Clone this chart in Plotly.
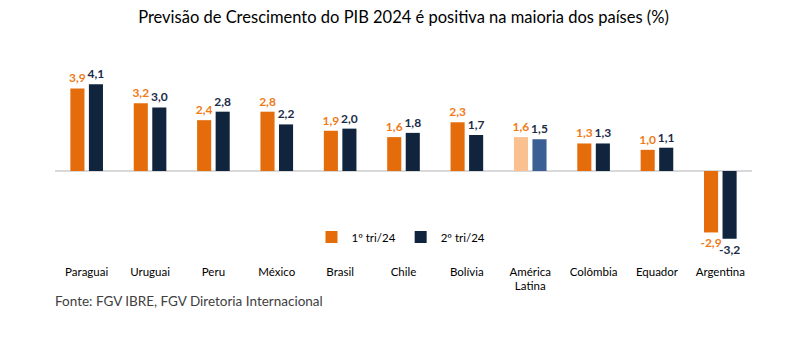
import plotly.graph_objects as go

categories = ["Paraguai", "Uruguai", "Peru", "México", "Brasil", "Chile", "Bolívia",
              "América<br>Latina", "Colômbia", "Equador", "Argentina"]
tri1 = [3.9, 3.2, 2.4, 2.8, 1.9, 1.6, 2.3, 1.6, 1.3, 1.0, -2.9]
tri2 = [4.1, 3.0, 2.8, 2.2, 2.0, 1.8, 1.7, 1.5, 1.3, 1.1, -3.2]

ORANGE = "#E46C0A"
NAVY = "#10243E"
LIGHT_ORANGE = "#FAC090"
STEEL = "#3A5F94"
LBL_ORANGE = "#F07A17"
LBL_NAVY = "#1B2B47"

c1 = [LIGHT_ORANGE if "América" in c else ORANGE for c in categories]
c2 = [STEEL if "América" in c else NAVY for c in categories]

fig = go.Figure()
fig.add_trace(go.Bar(
    x=categories, y=tri1, name="1º tri/24",
    marker=dict(color=c1, line=dict(width=0)),
    texttemplate="%{y:.1f}", textposition="outside", constraintext="none",
    textfont=dict(family="Lato", size=12, color=LBL_ORANGE, weight="bold"),
    cliponaxis=False,
))
fig.add_trace(go.Bar(
    x=categories, y=tri2, name="2º tri/24",
    marker=dict(color=c2, line=dict(width=0)),
    texttemplate="%{y:.1f}", textposition="outside", constraintext="none",
    textfont=dict(family="Lato", size=12, color=LBL_NAVY, weight="bold"),
    cliponaxis=False,
))

fig.update_layout(
    width=786, height=348,
    margin=dict(l=55, r=34, t=60, b=88),
    paper_bgcolor="white", plot_bgcolor="white",
    separators=",.",
    barmode="group", bargap=0.415, bargroupgap=0.24,
    font=dict(family="Lato", size=11, color="#000000"),
    title=dict(text="Previsão de Crescimento do PIB 2024 é positiva na maioria dos países (%)",
               x=0.5, xref="paper", xanchor="center", y=0.951, yanchor="middle",
               font=dict(family="Lato", size=16.5, color="#000000")),
    showlegend=True,
    legend=dict(orientation="h", x=0.368, y=0.115, xanchor="left", yanchor="middle",
                font=dict(family="Lato", size=11.5, color="#000000"),
                bgcolor="rgba(0,0,0,0)", itemwidth=30, traceorder="normal"),
)
fig.update_xaxes(showline=False, showgrid=False, ticks="", tickfont=dict(size=11.5, color="#000000"),
                 ticklabelstandoff=3)
fig.update_yaxes(range=[-4.2, 5.24], showgrid=False, showticklabels=False, zeroline=True,
                 zerolinecolor="#D9D9D9", zerolinewidth=1.5)

fig.add_annotation(text="Fonte: FGV IBRE, FGV Diretoria Internacional",
                   xref="paper", yref="paper", x=-0.003, y=-0.205,
                   xanchor="left", yanchor="middle", showarrow=False,
                   font=dict(family="Lato", size=13.5, color="#404040"))

fig.write_html("out.html")
